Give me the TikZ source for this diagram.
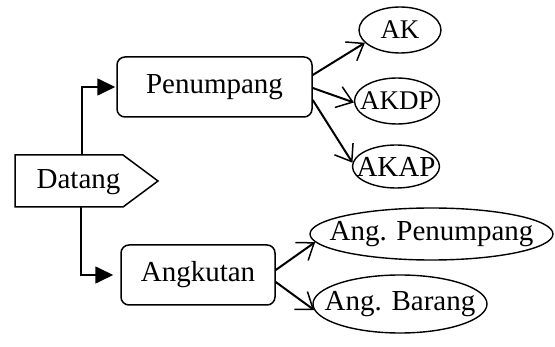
\documentclass[tikz,border=0pt]{standalone}
\usepackage{fontspec}
\setmainfont{Liberation Serif}
\usetikzlibrary{arrows.meta,shapes.geometric,calc}

\tikzset{
  box/.style={draw, line width=1.5pt, rounded corners=8pt, minimum height=60pt, inner sep=0pt},
  oval/.style={draw, ellipse, line width=1.4pt, inner sep=0pt},
  feed/.style={line width=1.7pt, -{Triangle[length=18pt,width=17pt]}},
  branch/.style={line width=2pt, -{Straight Barb[length=15pt,width=22pt,line width=1.5pt]}},
  txt/.style={font=\fontsize{29}{34}\selectfont},
  txts/.style={font=\fontsize{27}{32}\selectfont}
}

\begin{document}
\begin{tikzpicture}[x=1pt, y=-1pt]
  \useasboundingbox (0,0) rectangle (555,347);

  % source shape: pentagon pointing right
  \draw[line width=1.5pt] (15,155) -- (123,155) -- (158,181) -- (123,207) -- (15,207) -- cycle;
  \node[txt] (datang) at (78.5,182) {Datang};
  \coordinate (dtop) at (82,155);
  \coordinate (dbot) at (81,207);

  % categories
  \node[box, txt, minimum width=195pt] (penumpang) at (214.5,87) {Penumpang};
  \node[box, txt, minimum width=154pt] (angkutan) at (198,275) {Angkutan};

  % passenger sub-types
  \node[oval, minimum width=82pt, minimum height=46pt, label={[txts]center:AK}] (ak) at (400,30) {};
  \node[oval, minimum width=85pt, minimum height=46pt, label={[txts]center:AKDP}] (akdp) at (397,101) {};
  \node[oval, minimum width=87pt, minimum height=43pt, label={[txt]center:AKAP}] (akap) at (396,166.5) {};

  % vehicle sub-types
  \node[oval, minimum width=243pt, minimum height=52pt, label={[txt]center:Ang. Penumpang}] (angp) at (431.5,234) {};
  \node[oval, minimum width=174pt, minimum height=58pt, label={[txt]center:Ang. Barang}] (angb) at (400,304) {};

  % connectors from the source
  \draw[feed, shorten >=1pt] (dtop) |- (penumpang.west);
  \draw[feed, shorten >=7pt] (dbot) |- (angkutan.west);

  % branches
  \draw[branch] ($(penumpang.east)+(0,-12)$) -- (ak.200);
  \draw[branch] ($(penumpang.east)+(0,1)$) -- (akdp.182);
  \draw[branch] ($(penumpang.east)+(0,13)$) -- (akap.175);
  \draw[branch] ($(angkutan.east)+(0,-5)$) -- (angp.184);
  \draw[branch] ($(angkutan.east)+(0,7)$) -- (angb.184);
\end{tikzpicture}
\end{document}
